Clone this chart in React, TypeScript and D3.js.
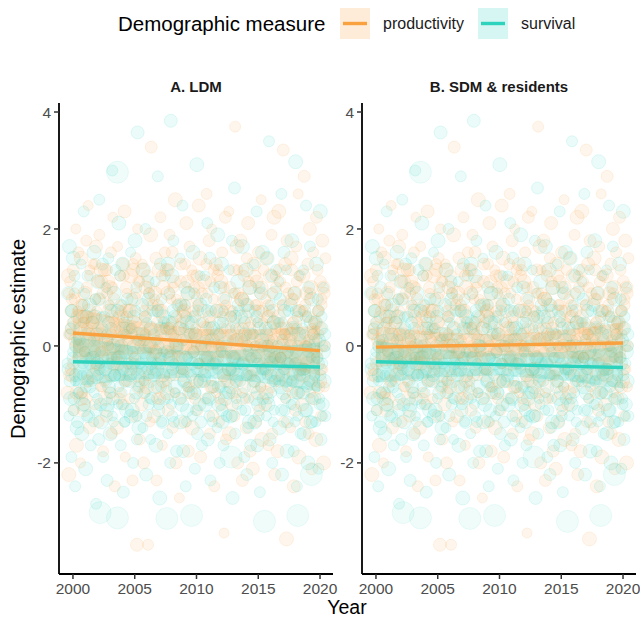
import React from "react";
import * as d3 from "d3";

const years = d3.range(2000, 2021);
const xTicks = [2000, 2005, 2010, 2015, 2020];
const yTicks = [-2, 0, 2, 4];
const panelTitles = ["A. LDM", "B. SDM & residents"];
const seriesNames = ["productivity", "survival"];
const legendTitle = "Demographic measure";

// per-year observed estimates (same observations shown in both panels)
const survivalByYear = [
  [-0.3,0.9,-1.2,1.7,-0.6,0.3,-1.9,0.6,-0.1,1.5,-0.9,1.2,-2.4,-0.5,0.1,-1.4,1.0,-0.8],
  [0.1,-0.8,1.4,-1.5,0.5,-0.3,2.3,-1.0,0.9,-2.1,0.2,-0.5,1.2,-1.2,-0.2,0.7,-0.7,-1.7],
  [-0.6,0.4,-1.3,1.6,-0.1,0.8,-2.7,0.2,-0.9,1.1,-1.6,2.5,-0.4,-1.0,0.5,-0.2,1.4,-1.9],
  [0.5,-0.4,1.0,-1.1,-2.3,0.1,1.5,-0.7,0.7,-1.5,0.3,-0.2,3.0,-0.9,-1.3,0.9,-0.5,1.3],
  [-0.2,0.6,-1.0,2.1,-0.5,1.2,-1.7,0.0,-0.8,1.4,-2.5,0.4,-1.3,-0.6,0.2,-1.1,0.8,-0.3],
  [0.3,-0.6,1.6,-1.2,0.8,-0.1,-2.0,0.5,-0.9,1.8,-0.4,1.0,-1.6,3.65,-0.7,-1.4,0.1,-0.3],
  [-0.4,0.7,-1.4,1.3,0.1,-0.8,2.0,-2.2,0.4,-0.2,1.1,-1.0,0.9,-0.6,-1.6,0.3,-0.9,0.6],
  [0.2,-0.5,1.1,-1.7,0.6,-0.3,2.9,-1.1,0.0,-2.6,1.4,-0.7,0.8,-1.3,-0.1,0.5,-0.9,1.2],
  [-0.7,0.3,-1.5,1.4,-0.2,0.9,-2.0,3.85,-1.0,1.2,-0.4,1.8,-1.3,0.5,-0.8,0.0,-1.8,0.7],
  [0.0,-0.9,1.5,-1.3,0.7,-0.4,2.4,-1.8,0.3,-0.6,1.0,-2.4,0.5,-1.1,-0.2,0.9,-0.7,0.2],
  [-0.5,0.4,-1.2,1.6,-0.1,0.9,-2.1,0.2,-0.8,3.1,-1.5,0.6,-0.3,-1.0,1.2,-0.6,0.0,-1.7],
  [0.4,-0.6,1.2,-1.0,0.8,-0.2,2.1,-1.6,0.1,-0.9,1.5,-2.3,0.6,-0.4,-1.3,0.3,-0.7,1.0],
  [-0.3,0.6,-1.4,1.9,-0.7,0.2,-2.0,1.0,-0.1,1.4,-1.1,0.4,-1.7,-0.5,0.8,-0.9,0.0,-1.2],
  [0.1,-0.8,1.3,-1.2,0.5,-0.4,1.8,-2.6,0.9,-0.2,2.7,-1.5,0.3,-0.6,-1.0,1.1,-0.3,0.6],
  [-0.6,0.5,-1.1,1.7,-0.3,0.8,-1.9,0.2,-0.9,1.3,-2.2,0.0,-1.4,0.6,-0.5,1.0,-1.7,-0.2],
  [0.2,-0.7,1.4,-1.3,0.6,-0.2,2.3,-1.7,0.4,-1.0,1.0,-2.5,-0.5,0.9,-0.4,1.6,-0.9,0.0],
  [-0.4,0.3,-1.2,1.5,0.0,-0.9,3.5,-1.6,0.7,-0.3,1.2,-2.0,-0.6,0.4,-1.1,0.9,-0.2,1.3],
  [0.0,-0.5,1.1,-1.4,0.8,-0.2,2.6,-2.2,0.4,-0.8,1.6,-1.1,0.2,-0.6,1.3,-1.8,-0.3,0.6],
  [-0.3,0.7,-1.0,1.8,-0.6,0.3,-1.8,0.9,-1.3,3.15,-0.1,-2.4,0.5,-0.8,1.2,-0.4,0.1,-1.5],
  [0.3,-0.8,1.3,-1.5,0.6,-0.4,2.4,-1.1,0.0,-2.0,1.0,-0.6,1.7,-1.3,-0.2,0.8,-0.9,0.2],
  [-0.5,0.4,-1.3,1.4,-0.2,0.8,-2.1,0.1,-0.9,2.3,-1.6,0.5,-0.3,-1.0,1.0,-0.6,0.2,-1.2],
];

const survivalCoreByYear = [
  [-0.4,0.2,-0.9,0.6,-0.2,-1.1,0.4,-0.6,0.0,-1.3],
  [0.3,-0.5,-1.0,0.7,-0.1,-0.7,0.5,-1.2,0.1,-0.3],
  [-0.2,-0.8,0.5,-1.1,0.1,-0.5,0.8,-0.3,-1.3,0.3],
  [-0.6,0.2,-1.0,0.4,-0.3,-0.8,0.6,-1.2,0.0,-0.5],
  [0.1,-0.7,-0.2,0.7,-1.0,-0.4,0.3,-1.3,-0.1,0.5],
  [-0.5,0.3,-1.1,0.0,-0.3,0.6,-0.8,-1.2,0.2,-0.6],
  [0.2,-0.6,-0.1,0.5,-1.2,-0.4,0.8,-0.9,0.0,-0.3],
  [-0.7,0.1,-0.4,0.6,-1.0,-0.2,0.3,-1.3,-0.5,0.4],
  [-0.1,-0.9,0.4,-0.5,0.2,-1.2,0.6,-0.3,-0.7,0.0],
  [0.3,-0.4,-1.0,0.1,-0.6,0.7,-0.2,-1.3,0.4,-0.8],
  [-0.3,0.2,-0.8,0.5,-1.1,-0.4,0.0,-0.6,0.7,-1.3],
  [-0.5,0.1,-0.2,0.6,-0.9,-1.2,0.3,-0.6,0.0,-0.3],
  [0.2,-0.4,-1.0,0.4,-0.7,0.0,-1.3,0.6,-0.2,-0.8],
  [-0.4,0.3,-0.7,-1.2,0.1,-0.2,0.5,-0.9,-0.5,0.7],
  [0.1,-0.8,-0.3,0.4,-1.1,-0.5,0.7,-0.1,-1.3,0.2],
  [-0.6,0.0,-0.9,0.5,-0.3,-1.2,0.3,-0.7,0.1,-0.4],
  [0.2,-0.5,-1.0,0.6,-0.2,-0.8,0.0,-1.3,0.4,-0.6],
  [-0.3,0.4,-0.7,-1.1,0.1,-0.4,0.6,-0.9,-0.1,-1.3],
  [0.0,-0.6,0.3,-1.0,-0.3,0.6,-0.8,-1.2,0.2,-0.5],
  [-0.4,0.2,-1.1,0.5,-0.7,-0.1,0.0,-0.9,0.4,-1.3],
  [0.1,-0.7,-0.3,0.6,-1.0,-0.5,0.3,-1.2,-0.1,0.0],
];

const productivityByYear = [
  [0.4,-0.5,1.3,-1.1,0.8,0.1,2.0,-1.7,0.5,-0.2,1.6,-0.8,0.9,-2.2,0.2,1.1,-0.4,0.6],
  [-0.1,0.9,-0.9,1.8,0.3,-0.6,2.4,0.6,-1.4,1.2,-0.2,0.0,-2.0,1.5,0.7,-0.8,0.4,-1.1],
  [0.6,-0.3,1.1,-1.3,1.9,0.2,-0.7,1.3,-0.1,0.9,-1.8,0.4,1.4,-0.5,0.0,-1.0,0.8,1.7],
  [0.0,1.0,-0.8,1.6,-1.5,0.5,2.2,-0.3,0.8,-2.4,0.3,1.3,-0.6,0.1,-1.2,0.9,-0.2,1.1],
  [0.7,-0.4,1.4,-1.0,0.2,2.3,-1.9,0.6,1.0,-0.6,0.1,-1.4,1.7,-0.2,0.5,-0.9,1.2,0.3],
  [-0.2,0.8,-1.2,1.5,0.4,-3.4,2.0,-0.5,1.1,-1.6,0.0,0.6,-0.9,1.2,-0.3,0.3,-2.3,1.3],
  [0.5,-0.7,1.2,-3.4,0.9,0.0,-1.3,1.9,3.4,-0.4,0.7,-1.0,1.4,0.2,-2.0,0.6,-0.6,1.0],
  [0.1,1.3,-0.9,2.2,-0.2,0.6,-1.7,1.0,-0.5,0.3,1.6,-1.2,0.8,-0.1,1.5,-2.3,0.4,-0.7],
  [0.8,-0.3,1.6,-1.4,0.2,1.1,-0.8,2.5,-2.0,0.5,-0.1,1.3,-0.6,0.9,-1.1,0.0,1.9,0.3],
  [-0.4,0.6,-1.3,1.4,0.1,2.1,-0.7,0.9,-1.8,0.3,1.7,-0.2,-2.6,0.7,1.1,-0.9,0.4,-0.5],
  [0.3,-0.6,1.2,-1.1,0.7,2.4,-0.3,1.5,-1.9,0.0,0.9,-0.8,1.3,-1.4,0.5,-0.1,1.0,0.2],
  [0.9,-0.2,1.8,-1.5,0.4,-0.7,2.0,0.1,-1.2,1.3,-2.4,0.6,-0.4,1.1,0.0,-0.9,2.6,0.3],
  [0.0,1.1,-1.0,1.6,0.5,-0.5,-3.2,0.8,2.2,-1.6,0.3,1.4,-0.8,0.6,-0.2,1.3,-1.3,0.2],
  [0.6,-0.4,1.3,-1.2,3.75,0.1,-0.8,1.7,-2.0,0.9,0.3,-0.6,2.3,-1.5,1.0,-0.1,0.5,-1.0],
  [-0.3,0.7,-1.4,1.5,0.2,2.1,-0.9,1.0,-1.8,0.4,-0.5,1.8,-0.1,0.8,-2.3,0.3,1.2,-0.7],
  [0.4,-0.8,1.6,-1.1,0.9,0.0,2.5,-1.6,0.6,-0.3,1.3,-2.1,0.2,1.4,-0.6,0.7,-1.3,1.1],
  [0.1,1.2,-0.7,1.9,-1.5,0.6,-0.2,2.2,-2.2,0.3,1.0,-1.0,0.8,-0.4,1.5,0.0,-1.7,0.5],
  [0.7,-0.5,3.35,-1.3,0.2,1.4,-0.9,-3.3,1.8,-0.1,0.9,-1.8,0.4,2.3,-0.6,1.1,-0.2,0.3],
  [-0.2,0.9,-1.1,1.7,0.3,-0.6,2.6,-1.9,0.6,1.2,-0.4,0.1,-1.4,1.5,0.8,-0.8,0.4,-2.4],
  [0.5,-0.3,1.4,-1.5,0.8,2.0,-0.8,1.0,-2.1,0.2,1.6,-1.0,0.6,-0.5,2.9,0.0,-1.3,0.9],
  [0.2,-0.6,1.1,-1.2,0.7,1.8,-0.4,-2.0,0.9,0.0,1.5,-0.9,0.4,-1.6,2.2,-0.2,0.6,-0.7],
];

const productivityCoreByYear = [
  [0.3,-0.3,0.9,0.0,-0.8,0.6,1.2,-0.5,0.2,0.8],
  [0.5,-0.2,1.0,-0.6,0.2,1.3,-0.9,0.7,0.0,0.4],
  [-0.4,0.3,0.8,-0.1,1.1,-0.7,0.5,0.1,1.4,-0.3],
  [0.6,-0.5,0.2,1.0,-0.2,0.4,-0.9,1.3,0.0,0.7],
  [-0.1,0.5,1.2,-0.6,0.3,0.9,-0.3,0.0,-0.8,0.6],
  [0.4,-0.2,0.9,0.1,-0.7,1.1,0.6,-0.4,0.2,1.4],
  [0.0,0.7,-0.5,1.0,0.3,-0.2,1.3,-0.8,0.5,0.2],
  [0.6,-0.3,0.2,1.2,-0.6,0.4,0.9,-0.1,-0.9,0.7],
  [-0.2,0.4,1.0,-0.5,0.1,0.8,-0.8,1.3,0.3,-0.1],
  [0.5,-0.4,0.7,0.0,1.1,-0.7,0.3,1.4,-0.2,0.6],
  [0.1,0.8,-0.3,1.0,-0.6,0.4,-0.1,1.2,0.6,-0.9],
  [-0.3,0.5,1.1,0.0,-0.7,0.8,0.3,-0.2,1.4,0.2],
  [0.6,-0.1,0.3,1.0,-0.6,0.7,-0.3,1.2,0.0,-0.9],
  [-0.2,0.4,0.9,-0.6,0.1,1.3,-0.4,0.6,0.2,-0.8],
  [0.5,0.0,-0.5,1.1,0.3,-0.2,0.8,-0.9,1.3,0.1],
  [-0.1,0.6,0.2,-0.7,1.0,0.4,-0.4,1.2,0.0,0.7],
  [0.3,-0.5,0.9,0.1,-0.2,1.2,-0.8,0.5,0.7,-0.1],
  [0.0,0.7,-0.4,1.0,0.3,-0.7,0.5,1.3,-0.2,0.2],
  [0.4,-0.3,1.1,0.0,0.6,-0.8,0.2,1.3,-0.5,0.8],
  [-0.2,0.5,0.1,0.9,-0.6,0.3,1.2,-0.4,0.7,0.0],
  [0.3,-0.4,0.8,0.0,1.0,-0.7,0.4,-0.1,1.3,0.6],
];

// large-weight survival observations [year, estimate]
const survivalLarge = [
  [2002.2, -2.85], [2003.6, -2.94], [2007.6, -2.95], [2009.6, -2.9],
  [2015.5, -3.0], [2018.2, -2.9], [2003.6, 2.97], [2012.8, -1.9], [2019.3, -2.2],
];

// fitted trends and 95% bands at 2000, 2005, 2010, 2015, 2020
const fitYears = [2000, 2005, 2010, 2015, 2020];
const fitA_prod = [0.22, 0.145, 0.07, -0.005, -0.08];
const fitA_prodLo = [-0.205, -0.14, -0.15, -0.29, -0.505];
const fitA_prodHi = [0.645, 0.43, 0.29, 0.28, 0.345];
const fitA_surv = [-0.27, -0.2925, -0.315, -0.3375, -0.36];
const fitA_survLo = [-0.695, -0.5775, -0.535, -0.6225, -0.785];
const fitA_survHi = [0.155, -0.0075, -0.095, -0.0525, 0.065];
const fitB_prod = [-0.02, -0.0025, 0.015, 0.0325, 0.05];
const fitB_prodLo = [-0.37, -0.2375, -0.165, -0.2025, -0.3];
const fitB_prodHi = [0.33, 0.2325, 0.195, 0.2675, 0.4];
const fitB_surv = [-0.27, -0.295, -0.32, -0.345, -0.37];
const fitB_survLo = [-0.63, -0.535, -0.506, -0.585, -0.73];
const fitB_survHi = [0.09, -0.055, -0.134, -0.105, -0.01];

const ORANGE = "#F9A03F";
const TEAL = "#2ED3BE";
const FONT = "'Liberation Sans', Arial, sans-serif";

const panels = [
  { x0: 59, x1: 333, title: panelTitles[0],
    prod: [fitA_prod, fitA_prodLo, fitA_prodHi], surv: [fitA_surv, fitA_survLo, fitA_survHi] },
  { x0: 362, x1: 636, title: panelTitles[1],
    prod: [fitB_prod, fitB_prodLo, fitB_prodHi], surv: [fitB_surv, fitB_survLo, fitB_survHi] },
];

const TOP = 103;
const BOTTOM = 574;
const yScale = d3.scaleLinear().domain([-3.9, 4.154]).range([BOTTOM, TOP]);
const radii = [5.5, 6.5, 5, 7, 6, 5.5];

function buildPoints() {
  const pts: any[] = [];
  years.forEach((yr, yi) => {
    const s = survivalByYear[yi];
    const pr = productivityByYear[yi];
    const n = s.length;
    for (let i = 0; i < n; i++) {
      pts.push({ x: yr - 0.44 + (0.88 * i) / (n - 1), y: s[i], c: TEAL, r: radii[i % radii.length] });
      pts.push({ x: yr - 0.44 + (0.88 * ((i + 7) % n)) / (n - 1), y: pr[i], c: ORANGE, r: radii[(i + 2) % radii.length] });
    }
    const sc = survivalCoreByYear[yi];
    const pc = productivityCoreByYear[yi];
    const m = sc.length;
    for (let i = 0; i < m; i++) {
      pts.push({ x: yr - 0.4 + (0.8 * (i + 0.5)) / m, y: sc[i], c: TEAL, r: radii[(i + 1) % radii.length] });
      pts.push({ x: yr - 0.4 + (0.8 * (((i + 4) % m) + 0.5)) / m, y: pc[i], c: ORANGE, r: radii[(i + 3) % radii.length] });
    }
  });
  return pts;
}
const allPoints = buildPoints();

function Panel({ p }: any) {
  const x = d3.scaleLinear().domain([1998.87, 2021.05]).range([p.x0, p.x1]);
  const band = (lo: number[], hi: number[]) =>
    d3.area<number>().x((_, i) => x(fitYears[i])).y0((_, i) => yScale(lo[i])).y1((_, i) => yScale(hi[i]))(lo);
  const line = (v: number[]) => d3.line<number>().x((_, i) => x(fitYears[i])).y((d) => yScale(d))(v);
  return (
    <g>
      <g>
        {allPoints.map((d, i) => (
          <circle key={i} cx={x(d.x)} cy={yScale(d.y)} r={d.r} fill={d.c} fillOpacity={0.095}
            stroke={d.c} strokeOpacity={0.13} strokeWidth={1} />
        ))}
        {survivalLarge.map((d, i) => (
          <circle key={"L" + i} cx={x(d[0])} cy={yScale(d[1])} r={11} fill={TEAL} fillOpacity={0.07}
            stroke={TEAL} strokeOpacity={0.09} />
        ))}
      </g>
      <path d={band(p.prod[1], p.prod[2]) || ""} fill={ORANGE} fillOpacity={0.22} />
      <path d={band(p.surv[1], p.surv[2]) || ""} fill={TEAL} fillOpacity={0.22} />
      <path d={line(p.prod[0]) || ""} fill="none" stroke={ORANGE} strokeWidth={3.4} />
      <path d={line(p.surv[0]) || ""} fill="none" stroke={TEAL} strokeWidth={3.4} />
      <line x1={p.x0} x2={p.x0} y1={TOP} y2={BOTTOM} stroke="#000" strokeWidth={1.8} />
      <line x1={p.x0} x2={p.x1} y1={BOTTOM} y2={BOTTOM} stroke="#000" strokeWidth={1.8} />
      {yTicks.map((t) => (
        <g key={t}>
          <line x1={p.x0 - 5} x2={p.x0} y1={yScale(t)} y2={yScale(t)} stroke="#333" strokeWidth={1.5} />
          <text x={p.x0 - 8} y={yScale(t)} dy="0.36em" textAnchor="end" fontSize={15.5} fill="#4D4D4D" fontFamily={FONT}>{t}</text>
        </g>
      ))}
      {xTicks.map((t) => (
        <g key={t}>
          <line x1={x(t)} x2={x(t)} y1={BOTTOM} y2={BOTTOM + 5} stroke="#333" strokeWidth={1.5} />
          <text x={x(t)} y={BOTTOM + 20} textAnchor="middle" fontSize={15.5} fill="#4D4D4D" fontFamily={FONT}>{t}</text>
        </g>
      ))}
      <text x={(p.x0 + p.x1) / 2} y={92} textAnchor="middle" fontSize={15} fontWeight="bold" fill="#1a1a1a" fontFamily={FONT}>{p.title}</text>
    </g>
  );
}

export default function App() {
  return (
    <svg width={640} height={619} style={{ position: "absolute", left: 0, top: 0, background: "#fff" }}>
      <rect width={640} height={619} fill="#fff" />
      {panels.map((p, i) => <Panel key={i} p={p} />)}
      <text x={347} y={614} textAnchor="middle" fontSize={19.5} fill="#000" fontFamily={FONT}>Year</text>
      <text transform="translate(25,339) rotate(-90)" textAnchor="middle" fontSize={20} fill="#000" fontFamily={FONT}>Demographic estimate</text>
      <text x={118} y={31} fontSize={20.5} fill="#000" fontFamily={FONT}>{legendTitle}</text>
      {[{ x: 340, c: ORANGE, t: seriesNames[0] }, { x: 478, c: TEAL, t: seriesNames[1] }].map((k) => (
        <g key={k.t}>
          <rect x={k.x} y={8} width={30} height={31} fill={k.c} fillOpacity={0.2} />
          <line x1={k.x + 3} x2={k.x + 27} y1={23.5} y2={23.5} stroke={k.c} strokeWidth={3.4} />
          <text x={k.x + 43} y={29} fontSize={16} fill="#1a1a1a" fontFamily={FONT}>{k.t}</text>
        </g>
      ))}
    </svg>
  );
}
